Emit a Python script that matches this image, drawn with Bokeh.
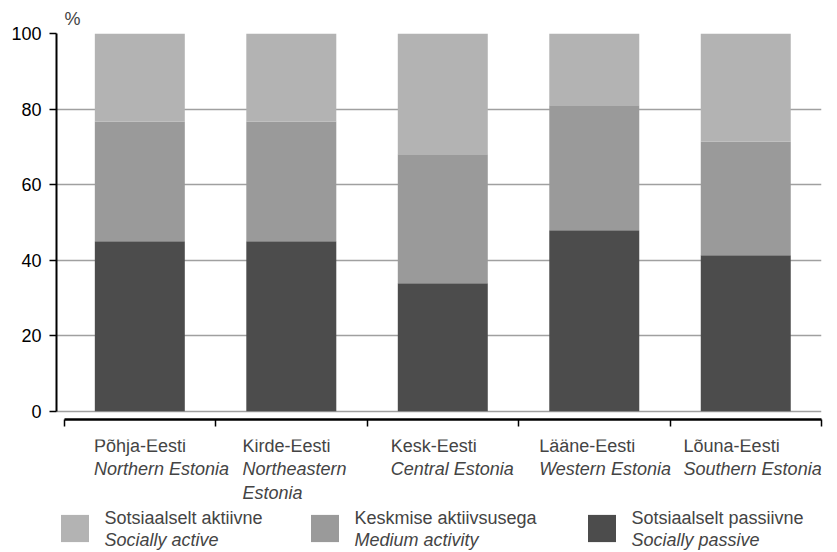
from bokeh.plotting import figure
from bokeh.layouts import column
from bokeh.models import Label, Legend, LegendItem, FixedTicker, Range1d, ColumnDataSource
from bokeh.embed import file_html
from bokeh.resources import INLINE

# ---- data ----
regions_et = ["Põhja-Eesti", "Kirde-Eesti", "Kesk-Eesti", "Lääne-Eesti", "Lõuna-Eesti"]
regions_en = ["Northern Estonia", "Northeastern\nEstonia", "Central Estonia", "Western Estonia", "Southern Estonia"]
passive = [45.0, 45.0, 33.9, 47.9, 41.3]
medium = [31.7, 31.7, 34.1, 33.1, 30.1]
active = [23.3, 23.3, 32.0, 19.0, 28.6]
series_et = ["Sotsiaalselt passiivne", "Keskmise aktiivsusega", "Sotsiaalselt aktiivne"]
series_en = ["Socially passive", "Medium activity", "Socially active"]
colors = ["#4c4c4c", "#9a9a9a", "#b3b3b3"]
y_ticks = [0, 20, 40, 60, 80, 100]

FONT = "Liberation Sans"
FS = "18px"
BAR_W = 0.594
W = 837
H1 = 439
PAGE_H = 552
LEFT = 56
RIGHT_1 = 16

n = len(regions_et)
xs = [i + 0.5 for i in range(n)]
source = ColumnDataSource(dict(x=xs, passive=passive, medium=medium, active=active))
X0 = -0.05
x_range = Range1d(X0, n)
px_per_unit = (W - LEFT - RIGHT_1) / (n - X0)

# ---- main chart ----
p = figure(width=W, height=H1, output_backend="svg", toolbar_location=None,
           x_range=x_range, y_range=Range1d(-2.2, 100),
           min_border_left=LEFT, min_border_right=RIGHT_1, min_border_top=33, min_border_bottom=20)
p.outline_line_color = None

p.vbar_stack(["passive", "medium", "active"], x="x", width=BAR_W,
             color=colors, line_color=None, source=source)

p.title.text = "%"
p.title.align = "left"
p.title.offset = 8
p.title.standoff = 9
p.title.text_font = FONT
p.title.text_font_size = FS
p.title.text_font_style = "normal"

p.yaxis.ticker = FixedTicker(ticks=y_ticks)
p.yaxis.bounds = (0, 100)
p.yaxis.axis_line_width = 2
p.yaxis.axis_line_color = "black"
p.yaxis.major_tick_in = 0
p.yaxis.major_tick_out = 7
p.yaxis.major_tick_line_width = 1.5
p.yaxis.major_tick_line_color = "black"
p.yaxis.minor_tick_line_color = None
p.yaxis.major_label_standoff = 8
p.yaxis.major_label_text_font = FONT
p.yaxis.major_label_text_font_size = FS
p.yaxis.major_label_text_color = "black"

p.xaxis.ticker = FixedTicker(ticks=list(range(n + 1)))
p.xaxis.bounds = (0, n)
p.xaxis.axis_line_width = 2.5
p.xaxis.axis_line_color = "black"
p.xaxis.major_tick_in = 0
p.xaxis.major_tick_out = 7
p.xaxis.major_tick_line_width = 1.5
p.xaxis.major_tick_line_color = "black"
p.xaxis.minor_tick_line_color = None
p.xaxis.major_label_text_color = None
p.xaxis.major_label_standoff = 0

p.xgrid.grid_line_color = None
p.ygrid.ticker = FixedTicker(ticks=y_ticks)
p.ygrid.grid_line_color = "#a0a0a0"
p.ygrid.grid_line_width = 1.5

# ---- label / legend strip (y coordinates = pixel rows of the page) ----
H2 = PAGE_H - H1
q = figure(width=W, height=H2, output_backend="svg", toolbar_location=None, title=None,
           x_range=Range1d(X0, X0 + (W - LEFT) / px_per_unit), y_range=Range1d(PAGE_H, H1),
           min_border_left=LEFT, min_border_right=0, min_border_top=0, min_border_bottom=0)
q.outline_line_color = None
q.axis.visible = False
q.grid.grid_line_color = None

# text rows (vertical middle of each text line, page px)
ROW1, ROW_STEP = 445, 23.5
for i, (et, en) in enumerate(zip(regions_et, regions_en)):
    lx = i + 0.5 - BAR_W / 2
    if i == n - 1:
        lx -= 0.027
    q.add_layout(Label(x=lx, y=ROW1, text=et, text_font=FONT, text_font_size=FS,
                       text_baseline="middle"))
    for k, line in enumerate(en.split("\n")):
        q.add_layout(Label(x=lx, y=ROW1 + ROW_STEP * (k + 1), text=line, text_font=FONT,
                           text_font_size=FS, text_font_style="italic",
                           text_baseline="middle"))

# hidden renderers that only supply the legend swatches
swatches = q.vbar_stack(["passive", "medium", "active"], x="x", width=BAR_W,
                        color=colors, line_color=None, source=source, visible=False)

SW_LEFT = [60, 310, 587]     # swatch left edges (page px)
SW_W, SW_H = 28, 27
SW_BOTTOM = 542
GW, GH = SW_W / 0.8, SW_H / 0.8   # bokeh insets area swatches by 10% per side
for j, idx in enumerate([2, 1, 0]):
    leg = Legend(items=[LegendItem(label=" ", renderers=[swatches[idx]])],
                 location=(SW_LEFT[j] - LEFT - 0.1 * GW, PAGE_H - SW_BOTTOM - 0.1 * GH),
                 orientation="horizontal", padding=0, margin=0, border_line_color=None,
                 background_fill_alpha=0, inactive_fill_alpha=0,
                 glyph_width=round(GW), glyph_height=round(GH), label_standoff=0,
                 label_text_font=FONT, label_text_font_size="1px")
    q.add_layout(leg, "center")
    tx = SW_LEFT[j] - LEFT + SW_W + 16
    q.add_layout(Label(x=tx, y=517, x_units="screen", y_units="data",
                       text=series_et[idx], text_font=FONT, text_font_size=FS,
                       text_baseline="middle"))
    q.add_layout(Label(x=tx, y=539, x_units="screen", y_units="data",
                       text=series_en[idx], text_font=FONT, text_font_size=FS,
                       text_font_style="italic", text_baseline="middle"))

open("out.html", "w").write(file_html(column(p, q, spacing=0), INLINE))
